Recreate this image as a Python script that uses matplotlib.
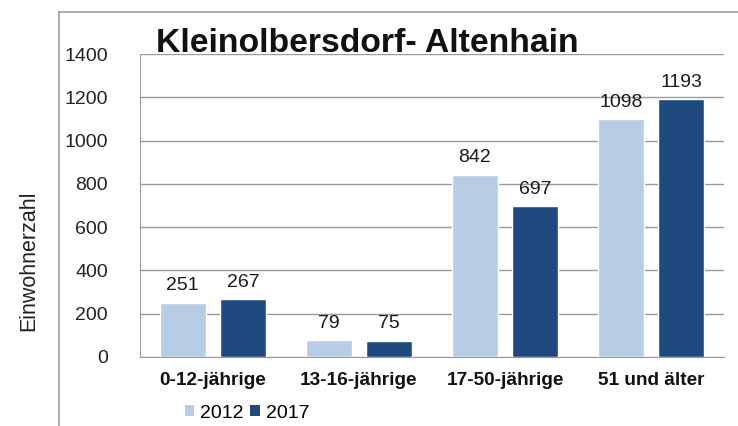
import numpy as np
import matplotlib.pyplot as plt
from matplotlib.lines import Line2D
from matplotlib.patches import Patch

categories = ["0-12-jährige", "13-16-jährige", "17-50-jährige", "51 und älter"]
values_2012 = [251, 79, 842, 1098]
values_2017 = [267, 75, 697, 1193]
series_names = ["2012", "2017"]

LIGHT = "#B7CDE5"
DARK = "#1E4A7F"
GRID = "#9A9A9A"

plt.rcParams["font.family"] = ["Liberation Sans", "DejaVu Sans"]

fig = plt.figure(figsize=(7.38, 4.26), dpi=100)
ax = fig.add_axes([0.1897, 0.162, 0.7913, 0.711])

x = np.arange(len(categories))
w = 0.315
off = 0.207
b1 = ax.bar(x - off, values_2012, w, color=LIGHT, edgecolor="white", linewidth=1.0, zorder=3)
b2 = ax.bar(x + off, values_2017, w, color=DARK, edgecolor="white", linewidth=1.0, zorder=3)

for bars, vals in ((b1, values_2012), (b2, values_2017)):
    for bar, v in zip(bars, vals):
        ax.annotate(str(v), (bar.get_x() + bar.get_width() / 2, v),
                    xytext=(0, 6), textcoords="offset points",
                    ha="center", va="bottom", fontsize=14, color="#1a1a1a")

ax.set_xlim(-0.5, 3.5)
ax.set_ylim(0, 1400)
ax.set_yticks(range(0, 1401, 200))
ax.set_xticks(x)
ax.set_xticklabels(categories, fontsize=13.7, fontweight="bold", color="#111111")
ax.tick_params(axis="y", labelsize=14, length=0, pad=23, labelcolor="#222222")
ax.tick_params(axis="x", length=0, pad=11)
ax.grid(True, axis="y", color=GRID, linewidth=1.0, zorder=0)
ax.set_axisbelow(True)
for s in ["top", "right"]:
    ax.spines[s].set_visible(False)
ax.spines["left"].set_color(GRID)
ax.spines["bottom"].set_color(GRID)

ax.set_title("Kleinolbersdorf- Altenhain", fontsize=24.3, fontweight="bold",
             x=0.39, y=0.98, color="#111111")

fig.text(29 / 738, 1 - 261 / 426, "Einwohnerzahl", rotation=90, ha="center", va="center",
         fontsize=15.5, color="#222222")

# outer frame lines
fig.add_artist(Line2D([59 / 738, 1.0], [1 - 12 / 426, 1 - 12 / 426],
                      transform=fig.transFigure, color="#A0A0A0", linewidth=1.2))
fig.add_artist(Line2D([59 / 738, 59 / 738], [0.0, 1 - 12 / 426],
                      transform=fig.transFigure, color="#A0A0A0", linewidth=1.2))

handles = [Patch(facecolor=LIGHT), Patch(facecolor=DARK)]
fig.legend(handles, series_names, loc="center left", bbox_to_anchor=(0.237, 0.03),
           ncol=2, frameon=False, fontsize=14, handlelength=0.5, handleheight=0.5,
           handletextpad=0.3, columnspacing=0.35, borderpad=0)

fig.savefig("out.png", dpi=100)
